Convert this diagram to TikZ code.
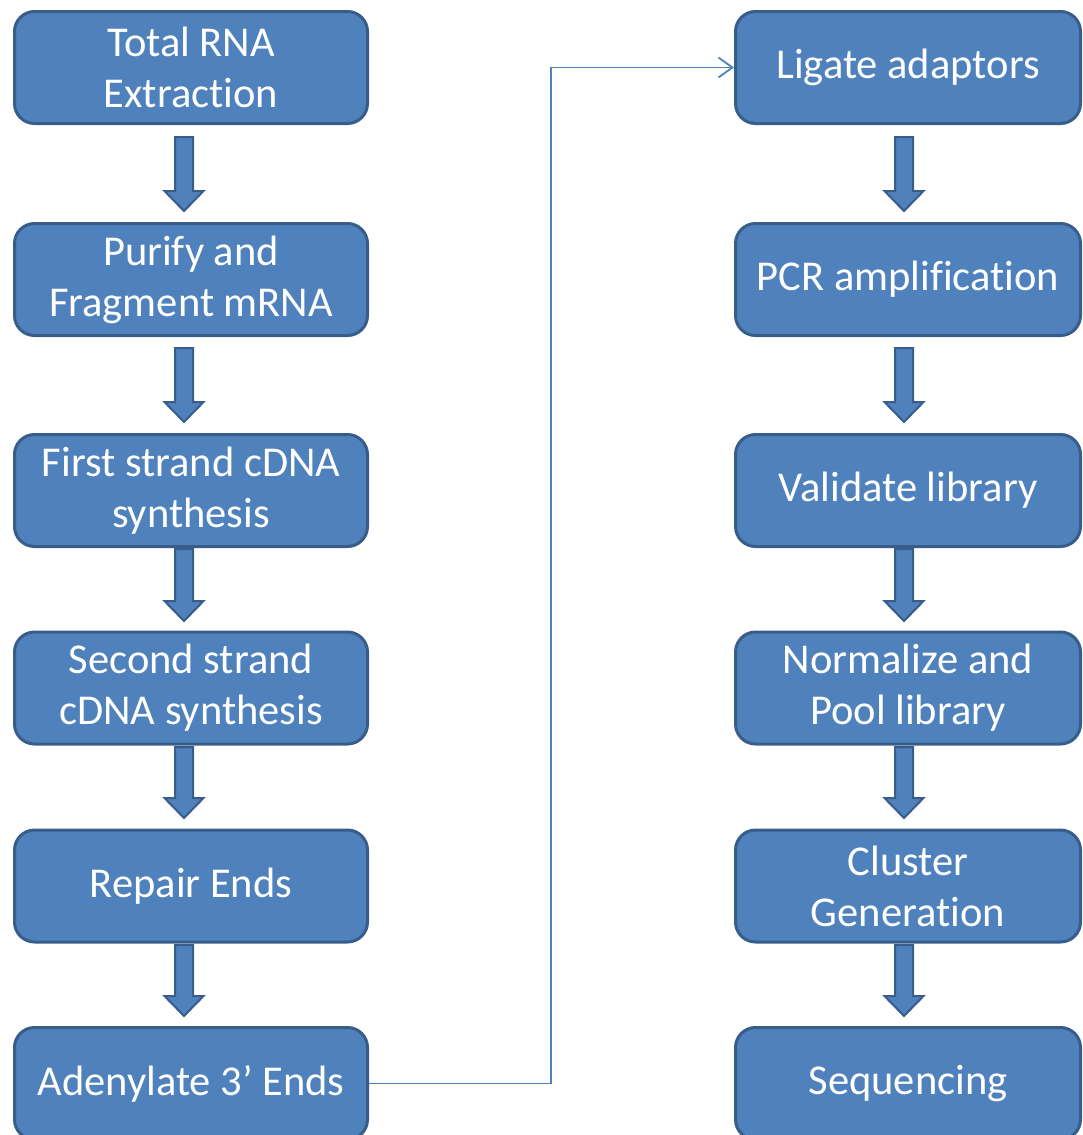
\documentclass[tikz,border=0pt]{standalone}
\usepackage{fontspec}
\setmainfont[Ligatures={NoCommon,NoRequired,NoContextual}]{Carlito}
\usetikzlibrary{calc,arrows.meta}
\definecolor{boxfill}{HTML}{4F81BD}
\definecolor{boxline}{HTML}{385D8A}
\definecolor{connline}{HTML}{4F81BD}
\tikzset{
  stepbox/.style={rectangle, rounded corners=20pt, draw=boxline, line width=3pt,
    fill=boxfill, text=white, align=center, inner sep=0pt,
    font=\fontsize{42.5}{51}\selectfont},
  leftbox/.style={stepbox, minimum width=353pt, minimum height=112pt},
  rightbox/.style={stepbox, minimum width=345pt, minimum height=112pt},
  blockarr/.style={draw=boxline, line width=2pt, fill=boxfill, line join=miter},
  conn/.style={draw=connline, line width=1.8pt, -{Straight Barb[length=14pt,width=20pt,line width=1.8pt]}}
}
\newcommand\blockar[2]{%
  \path let \p1=(#1), \p2=(#2) in
    [blockarr] (\x1-9pt,\y1) -- (\x1+9pt,\y1) -- (\x1+9pt,\y2+20pt) -- (\x1+19.5pt,\y2+20pt)
    -- (\x1,\y2) -- (\x1-19.5pt,\y2+20pt) -- (\x1-9pt,\y2+20pt) -- cycle;}
\begin{document}
\begin{tikzpicture}[x=1pt,y=-1pt]
\useasboundingbox (0,0) rectangle (1083,1135);
% left column
\node[leftbox] (l1) at (191,67.5) {Total RNA\\Extrac\kern0pt tion};
\node[leftbox] (l2) at (191,279.5) {Purify and\\Fragment mRNA};
\node[leftbox] (l3) at (191,490.5) {First strand cDNA\\synthesis};
\node[leftbox] (l4) at (191,688) {Second strand\\cDNA synthesis};
\node[leftbox] (l5) at (191,886) {Repair Ends};
\node[leftbox] (l6) at (191,1083.5) {Adenylate 3’ Ends};
% right column
\node[rightbox] (r1) at (908,67.5) {Ligate adaptors};
\node[rightbox] (r2) at (908,279.5) {PCR amplif\kern0pt ication};
\node[rightbox] (r3) at (908,490.5) {Validate library};
\node[rightbox] (r4) at (908,688) {Normalize and\\Pool library};
\node[rightbox] (r5) at (908,886) {Cluster\\Genera\kern0pt tion};
\node[rightbox] (r6) at (908,1083.5) {Sequencing};
% block arrow coordinates
\foreach \col/\xx in {l/184, r/904}{
  \coordinate (\col s1) at (\xx,137); \coordinate (\col e1) at (\xx,211);
  \coordinate (\col s2) at (\xx,348); \coordinate (\col e2) at (\xx,422);
  \coordinate (\col s3) at (\xx,549); \coordinate (\col e3) at (\xx,621);
  \coordinate (\col s4) at (\xx,747); \coordinate (\col e4) at (\xx,818);
  \coordinate (\col s5) at (\xx,945); \coordinate (\col e5) at (\xx,1016);
}
\foreach \i in {1,...,5}{
  \blockar{ls\i}{le\i}
  \blockar{rs\i}{re\i}
}
% connector
\draw[conn] (l6.east) -| ([xshift=-183pt]r1.west) -- (r1.west);
\end{tikzpicture}
\end{document}
